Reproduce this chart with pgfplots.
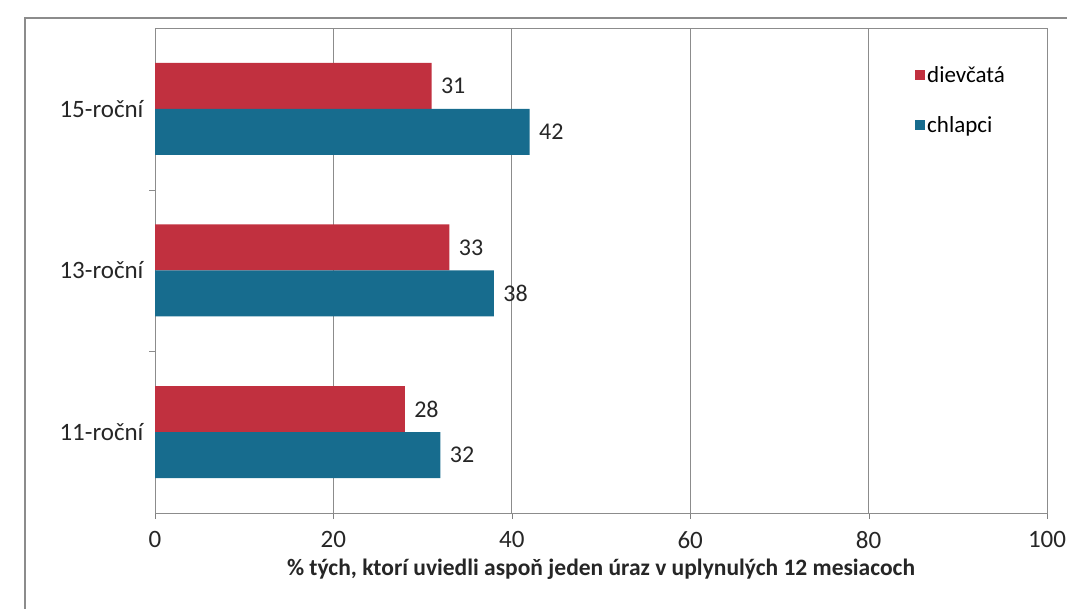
\documentclass[border=0pt]{standalone}
\usepackage{fontspec}
\setmainfont{Carlito}
\usepackage{pgfplots}
\pgfplotsset{compat=1.18}
\definecolor{girls}{HTML}{C1303F}
\definecolor{boys}{HTML}{176C8E}
\definecolor{rulegray}{HTML}{8C8C8C}

\begin{document}
\begin{tikzpicture}
\path[use as bounding box] (0pt,0pt) rectangle (1067pt,609pt);
% outer chart frame
\draw[rulegray, line width=1.2pt] (25pt,-20pt) rectangle (1100pt,591pt);
\begin{axis}[
  at={(155pt,96pt)}, anchor=south west,
  scale only axis, width=892pt, height=485pt,
  xbar, bar width=46pt,
  xmin=0, xmax=100, ymin=-0.5, ymax=2.5,
  xtick={0,20,...,100},
  ytick={0,1,2},
  yticklabels={11-roční,13-roční,15-roční},
  minor ytick={0.5,1.5},
  major y tick style={draw=none},
  minor y tick style={rulegray},
  minor tick length=6pt,
  major tick length=6pt,
  tick align=outside,
  xtick pos=bottom, ytick pos=left,
  axis line style={rulegray, line width=0.8pt},
  xmajorgrids, grid style={rulegray, line width=0.8pt},
  /pgf/number format/assume math mode=true,
  tick label style={font=\fontsize{25}{29}\selectfont, text=black!85},
  xticklabel style={yshift=-9pt},
  yticklabel style={xshift=-2pt},
  xlabel={\% tých, ktorí uviedli aspoň jeden úraz v uplynulých 12 mesiacoch},
  xlabel style={font=\bfseries\fontsize{23.5}{27}\selectfont, text=black!85, yshift=-3pt},
  nodes near coords,
  nodes near coords align={horizontal},
  every node near coord/.append style={font=\fontsize{24}{28}\selectfont, text=black!85, xshift=6pt},
  legend style={at={(0.852,0.925)}, anchor=north west, draw=none, fill=none,
    font=\fontsize{23}{27}\selectfont, row sep=28pt, inner sep=0pt},
  legend cell align=left,
  legend image code/.code={\fill[#1] (0pt,-5pt) rectangle (10pt,5pt);},
]
\addplot[fill=girls, draw=none, bar shift=23pt] coordinates {(28,0) (33,1) (31,2)};
\addplot[fill=boys, draw=none, bar shift=-23pt] coordinates {(32,0) (38,1) (42,2)};
\legend{dievčatá, chlapci}
\end{axis}
\end{tikzpicture}
\end{document}
